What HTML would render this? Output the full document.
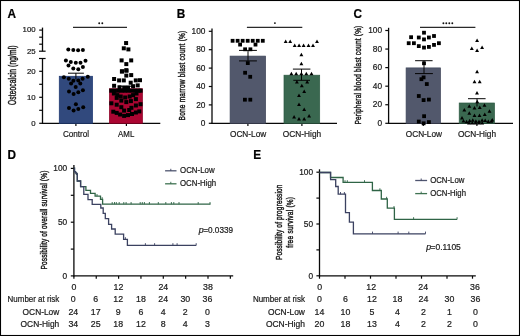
<!DOCTYPE html><html><head><meta charset="utf-8"><style>html,body{margin:0;padding:0;background:#fff}svg{display:block;will-change:transform}text{font-family:"Liberation Sans", sans-serif;stroke:currentColor;stroke-width:0.21px}</style></head><body>
<svg width="520" height="336" viewBox="0 0 520 336">
<rect x="0" y="0" width="520" height="336" fill="#fff"/>
<text x="7.4" y="17.7" font-size="12.8" text-anchor="start" font-weight="bold" fill="#000" color="#000" textLength="8.52" lengthAdjust="spacingAndGlyphs">A</text>
<text x="176.8" y="17.7" font-size="12.8" text-anchor="start" font-weight="bold" fill="#000" color="#000" textLength="8.52" lengthAdjust="spacingAndGlyphs">B</text>
<text x="353.4" y="17.9" font-size="12.8" text-anchor="start" font-weight="bold" fill="#000" color="#000" textLength="8.52" lengthAdjust="spacingAndGlyphs">C</text>
<text x="7.6" y="159.3" font-size="12.8" text-anchor="start" font-weight="bold" fill="#000" color="#000" textLength="8.52" lengthAdjust="spacingAndGlyphs">D</text>
<text x="253.2" y="159.3" font-size="12.8" text-anchor="start" font-weight="bold" fill="#000" color="#000" textLength="7.87" lengthAdjust="spacingAndGlyphs">E</text>
<line x1="42.5" y1="58.3" x2="42.5" y2="123.8" stroke="#080808" stroke-width="1.3"/>
<line x1="39" y1="58.5" x2="45.6" y2="58.5" stroke="#080808" stroke-width="1.2"/>
<line x1="39.2" y1="123.3" x2="42.5" y2="123.3" stroke="#080808" stroke-width="1.2"/>
<line x1="39.2" y1="110.3" x2="42.5" y2="110.3" stroke="#080808" stroke-width="1.2"/>
<line x1="39.2" y1="97.3" x2="42.5" y2="97.3" stroke="#080808" stroke-width="1.2"/>
<line x1="39.2" y1="84.3" x2="42.5" y2="84.3" stroke="#080808" stroke-width="1.2"/>
<line x1="39.2" y1="71.3" x2="42.5" y2="71.3" stroke="#080808" stroke-width="1.2"/>
<line x1="42.5" y1="27.6" x2="42.5" y2="51.3" stroke="#080808" stroke-width="1.3"/>
<line x1="39" y1="51.2" x2="45.6" y2="51.2" stroke="#080808" stroke-width="1.2"/>
<line x1="39.2" y1="30.1" x2="42.5" y2="30.1" stroke="#080808" stroke-width="1.2"/>
<line x1="39.2" y1="37.2" x2="42.5" y2="37.2" stroke="#080808" stroke-width="1.2"/>
<line x1="39.2" y1="44.2" x2="42.5" y2="44.2" stroke="#080808" stroke-width="1.2"/>
<text x="35.6" y="31.9" font-size="7.8" text-anchor="end" font-weight="normal" fill="#1a1a1a" color="#1a1a1a">100</text>
<text x="35.6" y="53.6" font-size="7.8" text-anchor="end" font-weight="normal" fill="#1a1a1a" color="#1a1a1a">25</text>
<text x="35.6" y="73.7" font-size="7.8" text-anchor="end" font-weight="normal" fill="#1a1a1a" color="#1a1a1a">20</text>
<text x="35.6" y="99.7" font-size="7.8" text-anchor="end" font-weight="normal" fill="#1a1a1a" color="#1a1a1a">10</text>
<text x="35.6" y="125.7" font-size="7.8" text-anchor="end" font-weight="normal" fill="#1a1a1a" color="#1a1a1a">0</text>
<line x1="42.0" y1="123.3" x2="160.3" y2="123.3" stroke="#080808" stroke-width="1.3"/>
<line x1="75.9" y1="123.3" x2="75.9" y2="126" stroke="#080808" stroke-width="1.2"/>
<line x1="126.4" y1="123.3" x2="126.4" y2="126" stroke="#080808" stroke-width="1.2"/>
<text x="76.0" y="136.7" font-size="8.8" text-anchor="middle" font-weight="normal" fill="#1a1a1a" color="#1a1a1a" textLength="26.2" lengthAdjust="spacingAndGlyphs">Control</text>
<text x="126.2" y="136.7" font-size="8.8" text-anchor="middle" font-weight="normal" fill="#1a1a1a" color="#1a1a1a" textLength="16.2" lengthAdjust="spacingAndGlyphs">AML</text>
<text transform="translate(16.0,75.3) rotate(-90) scale(0.64,1)" x="0" y="0" font-size="10.3" text-anchor="middle" fill="#1a1a1a" color="#1a1a1a" style="stroke-width:0.47px" textLength="93.12" lengthAdjust="spacing">Osteocalcin (ng/ml)</text>
<rect x="59.3" y="76.3" width="33.1" height="47.0" fill="#31497d" stroke="#203a72" stroke-width="0.8"/>
<rect x="109.4" y="88.7" width="33.1" height="34.6" fill="#ab0632" stroke="#8a0025" stroke-width="0.7"/>
<line x1="73" y1="27.4" x2="127" y2="27.4" stroke="#2a2a2a" stroke-width="1.2"/>
<circle cx="99.2" cy="23.2" r="0.95" fill="#111"/>
<circle cx="102.3" cy="23.2" r="0.95" fill="#111"/>
<line x1="75.9" y1="73.2" x2="75.9" y2="79.5" stroke="#050505" stroke-width="1.0"/>
<line x1="68" y1="73.2" x2="83.9" y2="73.2" stroke="#050505" stroke-width="1.0"/>
<circle cx="68.3" cy="49.6" r="2.0" fill="#000"/>
<circle cx="73.3" cy="50.1" r="2.0" fill="#000"/>
<circle cx="78.1" cy="50.2" r="2.0" fill="#000"/>
<circle cx="82.9" cy="49.9" r="2.0" fill="#000"/>
<circle cx="65.9" cy="60.6" r="2.0" fill="#000"/>
<circle cx="70.8" cy="62" r="2.0" fill="#000"/>
<circle cx="75.8" cy="62.7" r="2.0" fill="#000"/>
<circle cx="80.5" cy="62.7" r="2.0" fill="#000"/>
<circle cx="85.5" cy="60.8" r="2.0" fill="#000"/>
<circle cx="68.5" cy="65.5" r="2.0" fill="#000"/>
<circle cx="82.9" cy="66.9" r="2.0" fill="#000"/>
<circle cx="73.3" cy="68.6" r="2.0" fill="#000"/>
<circle cx="78.3" cy="69.3" r="2.0" fill="#000"/>
<circle cx="63.9" cy="77.2" r="2.0" fill="#000"/>
<circle cx="68.8" cy="78.8" r="2.0" fill="#000"/>
<circle cx="73.4" cy="80.8" r="2.0" fill="#000"/>
<circle cx="78.3" cy="80.4" r="2.0" fill="#000"/>
<circle cx="82.6" cy="78.8" r="2.0" fill="#000"/>
<circle cx="87.8" cy="76.8" r="2.0" fill="#000"/>
<circle cx="71.1" cy="83.4" r="2.0" fill="#000"/>
<circle cx="80.3" cy="83.4" r="2.0" fill="#000"/>
<circle cx="75.7" cy="87.0" r="2.0" fill="#000"/>
<circle cx="69.0" cy="91.4" r="2.0" fill="#000"/>
<circle cx="73.6" cy="94.0" r="2.0" fill="#000"/>
<circle cx="78.3" cy="92.2" r="2.0" fill="#000"/>
<circle cx="82.9" cy="90.3" r="2.0" fill="#000"/>
<circle cx="75.9" cy="104.2" r="2.0" fill="#000"/>
<circle cx="69.0" cy="108.0" r="2.0" fill="#000"/>
<circle cx="73.6" cy="110.4" r="2.0" fill="#000"/>
<circle cx="78.3" cy="108.9" r="2.0" fill="#000"/>
<circle cx="83.2" cy="107.3" r="2.0" fill="#000"/>
<line x1="126.4" y1="86.2" x2="126.4" y2="91.0" stroke="#050505" stroke-width="1.0"/>
<line x1="118.5" y1="86.2" x2="134.3" y2="86.2" stroke="#050505" stroke-width="1.1"/>
<line x1="118.5" y1="91.0" x2="134.3" y2="91.0" stroke="#050505" stroke-width="1.0"/>
<rect x="124.10" y="41.05" width="4.0" height="4.0" fill="#000"/>
<rect x="121.80" y="46.30" width="4.0" height="4.0" fill="#000"/>
<rect x="126.40" y="47.40" width="4.0" height="4.0" fill="#000"/>
<rect x="119.60" y="58.40" width="4.0" height="4.0" fill="#000"/>
<rect x="129.20" y="58.40" width="4.0" height="4.0" fill="#000"/>
<rect x="124.30" y="62.10" width="4.0" height="4.0" fill="#000"/>
<rect x="124.30" y="68.20" width="4.0" height="4.0" fill="#000"/>
<rect x="120.10" y="69.30" width="4.0" height="4.0" fill="#000"/>
<rect x="124.30" y="73.60" width="4.0" height="4.0" fill="#000"/>
<rect x="129.20" y="73.10" width="4.0" height="4.0" fill="#000"/>
<rect x="119.90" y="69.50" width="4.0" height="4.0" fill="#000"/>
<rect x="124.50" y="68.70" width="4.0" height="4.0" fill="#000"/>
<rect x="112.10" y="77.00" width="4.0" height="4.0" fill="#000"/>
<rect x="117.10" y="78.40" width="4.0" height="4.0" fill="#000"/>
<rect x="121.80" y="78.40" width="4.0" height="4.0" fill="#000"/>
<rect x="133.80" y="78.40" width="4.0" height="4.0" fill="#000"/>
<rect x="138.00" y="78.20" width="4.0" height="4.0" fill="#000"/>
<rect x="128.70" y="80.70" width="4.0" height="4.0" fill="#000"/>
<rect x="112.10" y="83.80" width="4.0" height="4.0" fill="#000"/>
<rect x="117.50" y="85.30" width="4.0" height="4.0" fill="#000"/>
<rect x="122.20" y="85.70" width="4.0" height="4.0" fill="#000"/>
<rect x="126.00" y="85.70" width="4.0" height="4.0" fill="#000"/>
<rect x="131.10" y="84.20" width="4.0" height="4.0" fill="#000"/>
<rect x="135.70" y="83.40" width="4.0" height="4.0" fill="#000"/>
<rect x="109.30" y="88.70" width="4.0" height="4.0" fill="#000"/>
<rect x="112.70" y="88.70" width="4.0" height="4.0" fill="#000"/>
<rect x="116.10" y="88.70" width="4.0" height="4.0" fill="#000"/>
<rect x="119.50" y="88.70" width="4.0" height="4.0" fill="#000"/>
<rect x="122.90" y="88.70" width="4.0" height="4.0" fill="#000"/>
<rect x="126.30" y="88.70" width="4.0" height="4.0" fill="#000"/>
<rect x="129.70" y="88.70" width="4.0" height="4.0" fill="#000"/>
<rect x="133.10" y="88.70" width="4.0" height="4.0" fill="#000"/>
<rect x="136.50" y="88.70" width="4.0" height="4.0" fill="#000"/>
<rect x="138.60" y="88.70" width="4.0" height="4.0" fill="#000"/>
<rect x="111.90" y="91.50" width="4.0" height="4.0" fill="#000"/>
<rect x="115.30" y="93.10" width="4.0" height="4.0" fill="#000"/>
<rect x="118.70" y="94.50" width="4.0" height="4.0" fill="#000"/>
<rect x="123.20" y="95.50" width="4.0" height="4.0" fill="#000"/>
<rect x="127.70" y="94.50" width="4.0" height="4.0" fill="#000"/>
<rect x="131.10" y="93.10" width="4.0" height="4.0" fill="#000"/>
<rect x="134.50" y="91.50" width="4.0" height="4.0" fill="#000"/>
<rect x="114.70" y="95.90" width="4.0" height="4.0" fill="#000"/>
<rect x="119.30" y="98.60" width="4.0" height="4.0" fill="#000"/>
<rect x="124.30" y="100.10" width="4.0" height="4.0" fill="#000"/>
<rect x="128.90" y="99.10" width="4.0" height="4.0" fill="#000"/>
<rect x="133.90" y="97.10" width="4.0" height="4.0" fill="#000"/>
<rect x="109.40" y="101.30" width="4.0" height="4.0" fill="#000"/>
<rect x="114.70" y="102.70" width="4.0" height="4.0" fill="#000"/>
<rect x="119.30" y="105.20" width="4.0" height="4.0" fill="#000"/>
<rect x="129.40" y="105.80" width="4.0" height="4.0" fill="#000"/>
<rect x="133.90" y="103.50" width="4.0" height="4.0" fill="#000"/>
<rect x="138.50" y="102.20" width="4.0" height="4.0" fill="#000"/>
<rect x="122.10" y="108.60" width="4.0" height="4.0" fill="#000"/>
<rect x="127.20" y="108.00" width="4.0" height="4.0" fill="#000"/>
<rect x="111.30" y="109.70" width="4.0" height="4.0" fill="#000"/>
<rect x="114.70" y="110.90" width="4.0" height="4.0" fill="#000"/>
<rect x="118.10" y="112.50" width="4.0" height="4.0" fill="#000"/>
<rect x="122.10" y="113.90" width="4.0" height="4.0" fill="#000"/>
<rect x="126.00" y="113.10" width="4.0" height="4.0" fill="#000"/>
<rect x="130.00" y="112.00" width="4.0" height="4.0" fill="#000"/>
<rect x="133.90" y="110.50" width="4.0" height="4.0" fill="#000"/>
<rect x="137.30" y="109.40" width="4.0" height="4.0" fill="#000"/>
<line x1="212.0" y1="28.4" x2="212.0" y2="123.9" stroke="#080808" stroke-width="1.3"/>
<line x1="208.8" y1="123.3" x2="212.0" y2="123.3" stroke="#080808" stroke-width="1.2"/>
<text x="205.4" y="126.0" font-size="8.3" text-anchor="end" font-weight="normal" fill="#1a1a1a" color="#1a1a1a">0</text>
<line x1="208.8" y1="104.89999999999999" x2="212.0" y2="104.89999999999999" stroke="#080808" stroke-width="1.2"/>
<text x="205.4" y="107.6" font-size="8.3" text-anchor="end" font-weight="normal" fill="#1a1a1a" color="#1a1a1a">20</text>
<line x1="208.8" y1="86.5" x2="212.0" y2="86.5" stroke="#080808" stroke-width="1.2"/>
<text x="205.4" y="89.2" font-size="8.3" text-anchor="end" font-weight="normal" fill="#1a1a1a" color="#1a1a1a">40</text>
<line x1="208.8" y1="68.1" x2="212.0" y2="68.1" stroke="#080808" stroke-width="1.2"/>
<text x="205.4" y="70.8" font-size="8.3" text-anchor="end" font-weight="normal" fill="#1a1a1a" color="#1a1a1a">60</text>
<line x1="208.8" y1="49.69999999999999" x2="212.0" y2="49.69999999999999" stroke="#080808" stroke-width="1.2"/>
<text x="205.4" y="52.39999999999999" font-size="8.3" text-anchor="end" font-weight="normal" fill="#1a1a1a" color="#1a1a1a">80</text>
<line x1="208.8" y1="31.299999999999997" x2="212.0" y2="31.299999999999997" stroke="#080808" stroke-width="1.2"/>
<text x="205.4" y="34.0" font-size="8.3" text-anchor="end" font-weight="normal" fill="#1a1a1a" color="#1a1a1a">100</text>
<line x1="211.5" y1="123.3" x2="337.0" y2="123.3" stroke="#080808" stroke-width="1.3"/>
<line x1="247.9" y1="123.3" x2="247.9" y2="126.0" stroke="#080808" stroke-width="1.2"/>
<line x1="301.9" y1="123.3" x2="301.9" y2="126.0" stroke="#080808" stroke-width="1.2"/>
<text x="248.1" y="136.7" font-size="8.8" text-anchor="middle" font-weight="normal" fill="#1a1a1a" color="#1a1a1a" textLength="36.2" lengthAdjust="spacingAndGlyphs">OCN-Low</text>
<text x="302.0" y="136.7" font-size="8.8" text-anchor="middle" font-weight="normal" fill="#1a1a1a" color="#1a1a1a" textLength="38.4" lengthAdjust="spacingAndGlyphs">OCN-High</text>
<text transform="translate(184.9,75.6) rotate(-90) scale(0.66,1)" x="0" y="0" font-size="9.9" text-anchor="middle" fill="#1a1a1a" color="#1a1a1a" style="stroke-width:0.45px" textLength="135.76" lengthAdjust="spacing">Bone marrow blast count (%)</text>
<rect x="230.1" y="56.1" width="35.5" height="67.2" fill="#52586c" stroke="#3f4559" stroke-width="0.7"/>
<rect x="284.0" y="75.2" width="35.7" height="48.1" fill="#3a6850" stroke="#2d5a42" stroke-width="0.7"/>
<line x1="246.9" y1="27.4" x2="302.3" y2="27.4" stroke="#2a2a2a" stroke-width="1.2"/>
<circle cx="274.9" cy="23.1" r="0.95" fill="#111"/>
<line x1="248.0" y1="50.4" x2="248.0" y2="60.8" stroke="#050505" stroke-width="1.0"/>
<line x1="239.0" y1="50.4" x2="256.9" y2="50.4" stroke="#050505" stroke-width="1.0"/>
<line x1="239.0" y1="60.9" x2="256.9" y2="60.9" stroke="#050505" stroke-width="1.0"/>
<rect x="230.70" y="38.90" width="3.8" height="3.8" fill="#000"/>
<rect x="235.73" y="38.90" width="3.8" height="3.8" fill="#000"/>
<rect x="240.76" y="38.90" width="3.8" height="3.8" fill="#000"/>
<rect x="245.79" y="38.90" width="3.8" height="3.8" fill="#000"/>
<rect x="250.82" y="38.90" width="3.8" height="3.8" fill="#000"/>
<rect x="255.85" y="38.90" width="3.8" height="3.8" fill="#000"/>
<rect x="260.88" y="38.90" width="3.8" height="3.8" fill="#000"/>
<rect x="238.20" y="42.70" width="3.8" height="3.8" fill="#000"/>
<rect x="253.60" y="42.70" width="3.8" height="3.8" fill="#000"/>
<rect x="243.20" y="47.40" width="3.8" height="3.8" fill="#000"/>
<rect x="248.50" y="47.40" width="3.8" height="3.8" fill="#000"/>
<rect x="245.90" y="61.20" width="3.8" height="3.8" fill="#000"/>
<rect x="243.20" y="70.85" width="3.8" height="3.8" fill="#000"/>
<rect x="248.30" y="74.90" width="3.8" height="3.8" fill="#000"/>
<rect x="243.00" y="97.80" width="3.8" height="3.8" fill="#000"/>
<rect x="248.40" y="97.80" width="3.8" height="3.8" fill="#000"/>
<line x1="301.5" y1="69.1" x2="301.5" y2="80.3" stroke="#050505" stroke-width="1.0"/>
<line x1="292.9" y1="69.1" x2="310.4" y2="69.1" stroke="#050505" stroke-width="1.0"/>
<line x1="293.3" y1="80.3" x2="310.0" y2="80.3" stroke="#050505" stroke-width="1.0"/>
<polygon points="285.70,39.39 283.75,42.90 287.65,42.90" fill="#000"/>
<polygon points="290.20,39.39 288.25,42.90 292.15,42.90" fill="#000"/>
<polygon points="317.00,39.39 315.05,42.90 318.95,42.90" fill="#000"/>
<polygon points="294.70,43.39 292.75,46.90 296.65,46.90" fill="#000"/>
<polygon points="299.10,43.39 297.15,46.90 301.05,46.90" fill="#000"/>
<polygon points="303.60,43.39 301.65,46.90 305.55,46.90" fill="#000"/>
<polygon points="308.50,43.39 306.55,46.90 310.45,46.90" fill="#000"/>
<polygon points="313.00,43.39 311.05,46.90 314.95,46.90" fill="#000"/>
<polygon points="301.40,52.79 299.45,56.30 303.35,56.30" fill="#000"/>
<polygon points="301.40,61.69 299.45,65.20 303.35,65.20" fill="#000"/>
<polygon points="291.40,71.69 289.45,75.20 293.35,75.20" fill="#000"/>
<polygon points="296.20,71.69 294.25,75.20 298.15,75.20" fill="#000"/>
<polygon points="301.40,71.69 299.45,75.20 303.35,75.20" fill="#000"/>
<polygon points="306.30,71.69 304.35,75.20 308.25,75.20" fill="#000"/>
<polygon points="311.50,71.69 309.55,75.20 313.45,75.20" fill="#000"/>
<polygon points="296.90,79.99 294.95,83.50 298.85,83.50" fill="#000"/>
<polygon points="307.20,79.99 305.25,83.50 309.15,83.50" fill="#000"/>
<polygon points="301.80,83.79 299.85,87.30 303.75,87.30" fill="#000"/>
<polygon points="304.20,89.49 302.25,93.00 306.15,93.00" fill="#000"/>
<polygon points="299.00,93.59 297.05,97.10 300.95,97.10" fill="#000"/>
<polygon points="299.00,102.59 297.05,106.10 300.95,106.10" fill="#000"/>
<polygon points="304.20,107.49 302.25,111.00 306.15,111.00" fill="#000"/>
<polygon points="294.10,114.89 292.15,118.40 296.05,118.40" fill="#000"/>
<polygon points="309.10,114.09 307.15,117.60 311.05,117.60" fill="#000"/>
<polygon points="299.00,117.09 297.05,120.60 300.95,120.60" fill="#000"/>
<polygon points="304.20,117.09 302.25,120.60 306.15,120.60" fill="#000"/>
<line x1="388.6" y1="27.8" x2="388.6" y2="123.9" stroke="#080808" stroke-width="1.3"/>
<line x1="385.3" y1="123.3" x2="388.6" y2="123.3" stroke="#080808" stroke-width="1.2"/>
<text x="382.1" y="125.89999999999999" font-size="8.3" text-anchor="end" font-weight="normal" fill="#1a1a1a" color="#1a1a1a">0</text>
<line x1="385.3" y1="104.74" x2="388.6" y2="104.74" stroke="#080808" stroke-width="1.2"/>
<text x="382.1" y="107.33999999999999" font-size="8.3" text-anchor="end" font-weight="normal" fill="#1a1a1a" color="#1a1a1a">20</text>
<line x1="385.3" y1="86.17999999999999" x2="388.6" y2="86.17999999999999" stroke="#080808" stroke-width="1.2"/>
<text x="382.1" y="88.77999999999999" font-size="8.3" text-anchor="end" font-weight="normal" fill="#1a1a1a" color="#1a1a1a">40</text>
<line x1="385.3" y1="67.62" x2="388.6" y2="67.62" stroke="#080808" stroke-width="1.2"/>
<text x="382.1" y="70.22" font-size="8.3" text-anchor="end" font-weight="normal" fill="#1a1a1a" color="#1a1a1a">60</text>
<line x1="385.3" y1="49.05999999999999" x2="388.6" y2="49.05999999999999" stroke="#080808" stroke-width="1.2"/>
<text x="382.1" y="51.65999999999999" font-size="8.3" text-anchor="end" font-weight="normal" fill="#1a1a1a" color="#1a1a1a">80</text>
<line x1="385.3" y1="30.499999999999986" x2="388.6" y2="30.499999999999986" stroke="#080808" stroke-width="1.2"/>
<text x="382.1" y="33.09999999999999" font-size="8.3" text-anchor="end" font-weight="normal" fill="#1a1a1a" color="#1a1a1a">100</text>
<line x1="388.1" y1="123.3" x2="513.0" y2="123.3" stroke="#080808" stroke-width="1.3"/>
<line x1="423.3" y1="123.3" x2="423.3" y2="126.0" stroke="#080808" stroke-width="1.2"/>
<line x1="476.9" y1="123.3" x2="476.9" y2="126.0" stroke="#080808" stroke-width="1.2"/>
<text x="423.9" y="136.7" font-size="8.8" text-anchor="middle" font-weight="normal" fill="#1a1a1a" color="#1a1a1a" textLength="36.2" lengthAdjust="spacingAndGlyphs">OCN-Low</text>
<text x="477.0" y="136.7" font-size="8.8" text-anchor="middle" font-weight="normal" fill="#1a1a1a" color="#1a1a1a" textLength="38.2" lengthAdjust="spacingAndGlyphs">OCN-High</text>
<text transform="translate(360.6,75.1) rotate(-90) scale(0.66,1)" x="0" y="0" font-size="9.9" text-anchor="middle" fill="#1a1a1a" color="#1a1a1a" style="stroke-width:0.45px" textLength="149.70" lengthAdjust="spacing">Peripheral blood blast count (%)</text>
<rect x="406.1" y="67.9" width="34.4" height="55.4" fill="#52586c" stroke="#3f4559" stroke-width="0.7"/>
<rect x="459.2" y="103.0" width="35.3" height="20.3" fill="#3a6850" stroke="#2d5a42" stroke-width="0.7"/>
<line x1="420.0" y1="27.4" x2="475.4" y2="27.4" stroke="#2a2a2a" stroke-width="1.2"/>
<circle cx="443.4" cy="23.2" r="0.95" fill="#111"/>
<circle cx="446.3" cy="23.2" r="0.95" fill="#111"/>
<circle cx="449.3" cy="23.2" r="0.95" fill="#111"/>
<circle cx="452.3" cy="23.2" r="0.95" fill="#111"/>
<line x1="424.0" y1="60.7" x2="424.0" y2="73.6" stroke="#050505" stroke-width="1.0"/>
<line x1="415.1" y1="60.7" x2="432.6" y2="60.7" stroke="#050505" stroke-width="1.0"/>
<line x1="415.0" y1="73.6" x2="432.9" y2="73.6" stroke="#050505" stroke-width="1.0"/>
<rect x="422.10" y="30.80" width="3.8" height="3.8" fill="#000"/>
<rect x="409.20" y="35.30" width="3.8" height="3.8" fill="#000"/>
<rect x="416.90" y="35.60" width="3.8" height="3.8" fill="#000"/>
<rect x="422.10" y="37.50" width="3.8" height="3.8" fill="#000"/>
<rect x="427.00" y="35.60" width="3.8" height="3.8" fill="#000"/>
<rect x="432.10" y="34.10" width="3.8" height="3.8" fill="#000"/>
<rect x="406.80" y="41.30" width="3.8" height="3.8" fill="#000"/>
<rect x="412.00" y="41.30" width="3.8" height="3.8" fill="#000"/>
<rect x="416.90" y="44.20" width="3.8" height="3.8" fill="#000"/>
<rect x="422.10" y="45.70" width="3.8" height="3.8" fill="#000"/>
<rect x="427.00" y="45.00" width="3.8" height="3.8" fill="#000"/>
<rect x="432.10" y="43.00" width="3.8" height="3.8" fill="#000"/>
<rect x="437.00" y="41.30" width="3.8" height="3.8" fill="#000"/>
<rect x="422.10" y="61.40" width="3.8" height="3.8" fill="#000"/>
<rect x="421.70" y="75.50" width="3.8" height="3.8" fill="#000"/>
<rect x="419.50" y="77.30" width="3.8" height="3.8" fill="#000"/>
<rect x="424.90" y="82.15" width="3.8" height="3.8" fill="#000"/>
<rect x="416.90" y="94.10" width="3.8" height="3.8" fill="#000"/>
<rect x="421.70" y="98.20" width="3.8" height="3.8" fill="#000"/>
<rect x="427.00" y="97.70" width="3.8" height="3.8" fill="#000"/>
<rect x="422.20" y="114.30" width="3.8" height="3.8" fill="#000"/>
<rect x="416.90" y="119.65" width="3.8" height="3.8" fill="#000"/>
<rect x="421.70" y="121.40" width="3.8" height="3.8" fill="#000"/>
<rect x="427.00" y="120.20" width="3.8" height="3.8" fill="#000"/>
<line x1="477.0" y1="98.7" x2="477.0" y2="106.5" stroke="#050505" stroke-width="1.0"/>
<line x1="468.0" y1="98.7" x2="485.6" y2="98.7" stroke="#050505" stroke-width="1.0"/>
<polygon points="477.10,38.39 475.15,41.90 479.05,41.90" fill="#000"/>
<polygon points="471.80,46.49 469.85,50.00 473.75,50.00" fill="#000"/>
<polygon points="482.10,45.59 480.15,49.10 484.05,49.10" fill="#000"/>
<polygon points="477.10,48.59 475.15,52.10 479.05,52.10" fill="#000"/>
<polygon points="477.10,69.69 475.15,73.20 479.05,73.20" fill="#000"/>
<polygon points="474.50,79.79 472.55,83.30 476.45,83.30" fill="#000"/>
<polygon points="479.70,79.79 477.75,83.30 481.65,83.30" fill="#000"/>
<polygon points="477.00,90.89 475.05,94.40 478.95,94.40" fill="#000"/>
<polygon points="477.25,99.64 475.30,103.15 479.20,103.15" fill="#000"/>
<polygon points="469.30,104.19 467.35,107.70 471.25,107.70" fill="#000"/>
<polygon points="474.50,106.09 472.55,109.60 476.45,109.60" fill="#000"/>
<polygon points="479.75,105.49 477.80,109.00 481.70,109.00" fill="#000"/>
<polygon points="484.50,103.19 482.55,106.70 486.45,106.70" fill="#000"/>
<polygon points="464.30,107.99 462.35,111.50 466.25,111.50" fill="#000"/>
<polygon points="469.30,111.29 467.35,114.80 471.25,114.80" fill="#000"/>
<polygon points="474.50,113.39 472.55,116.90 476.45,116.90" fill="#000"/>
<polygon points="479.50,113.39 477.55,116.90 481.45,116.90" fill="#000"/>
<polygon points="484.75,112.39 482.80,115.90 486.70,115.90" fill="#000"/>
<polygon points="489.50,109.19 487.55,112.70 491.45,112.70" fill="#000"/>
<polygon points="462.00,115.89 460.05,119.40 463.95,119.40" fill="#000"/>
<polygon points="492.25,117.89 490.30,121.40 494.20,121.40" fill="#000"/>
<polygon points="463.50,118.89 461.55,122.40 465.45,122.40" fill="#000"/>
<polygon points="466.60,119.69 464.65,123.20 468.55,123.20" fill="#000"/>
<polygon points="469.70,118.69 467.75,122.20 471.65,122.20" fill="#000"/>
<polygon points="472.80,118.15 470.85,121.66 474.75,121.66" fill="#000"/>
<polygon points="475.90,119.29 473.95,122.80 477.85,122.80" fill="#000"/>
<polygon points="479.00,119.53 477.05,123.04 480.95,123.04" fill="#000"/>
<polygon points="482.10,118.33 480.15,121.84 484.05,121.84" fill="#000"/>
<polygon points="485.20,118.40 483.25,121.91 487.15,121.91" fill="#000"/>
<polygon points="488.30,119.58 486.35,123.09 490.25,123.09" fill="#000"/>
<polygon points="491.40,119.21 489.45,122.72 493.35,122.72" fill="#000"/>
<polygon points="469.00,121.09 467.05,124.60 470.95,124.60" fill="#000"/>
<polygon points="472.30,121.09 470.35,124.60 474.25,124.60" fill="#000"/>
<polygon points="475.60,121.09 473.65,124.60 477.55,124.60" fill="#000"/>
<polygon points="478.90,121.09 476.95,124.60 480.85,124.60" fill="#000"/>
<polygon points="482.20,121.09 480.25,124.60 484.15,124.60" fill="#000"/>
<line x1="73.9" y1="165.0" x2="73.9" y2="276.5" stroke="#080808" stroke-width="1.3"/>
<line x1="70.8" y1="168.4" x2="73.9" y2="168.4" stroke="#080808" stroke-width="1.2"/>
<line x1="70.8" y1="195.3" x2="73.9" y2="195.3" stroke="#080808" stroke-width="1.2"/>
<line x1="70.8" y1="222.2" x2="73.9" y2="222.2" stroke="#080808" stroke-width="1.2"/>
<line x1="70.8" y1="249.1" x2="73.9" y2="249.1" stroke="#080808" stroke-width="1.2"/>
<line x1="70.8" y1="275.9" x2="73.9" y2="275.9" stroke="#080808" stroke-width="1.2"/>
<text x="67.2" y="171.0" font-size="8.3" text-anchor="end" font-weight="normal" fill="#1a1a1a" color="#1a1a1a">100</text>
<text x="67.2" y="224.79999999999998" font-size="8.3" text-anchor="end" font-weight="normal" fill="#1a1a1a" color="#1a1a1a">50</text>
<text x="67.2" y="278.5" font-size="8.3" text-anchor="end" font-weight="normal" fill="#1a1a1a" color="#1a1a1a">0</text>
<line x1="73.4" y1="275.9" x2="233.2" y2="275.9" stroke="#080808" stroke-width="1.3"/>
<line x1="73.9" y1="275.9" x2="73.9" y2="278.7" stroke="#080808" stroke-width="1.2"/>
<line x1="96.25" y1="275.9" x2="96.25" y2="278.7" stroke="#080808" stroke-width="1.2"/>
<line x1="118.60000000000001" y1="275.9" x2="118.60000000000001" y2="278.7" stroke="#080808" stroke-width="1.2"/>
<line x1="140.95000000000002" y1="275.9" x2="140.95000000000002" y2="278.7" stroke="#080808" stroke-width="1.2"/>
<line x1="163.3" y1="275.9" x2="163.3" y2="278.7" stroke="#080808" stroke-width="1.2"/>
<line x1="185.65" y1="275.9" x2="185.65" y2="278.7" stroke="#080808" stroke-width="1.2"/>
<line x1="208.00000000000003" y1="275.9" x2="208.00000000000003" y2="278.7" stroke="#080808" stroke-width="1.2"/>
<line x1="230.35000000000002" y1="275.9" x2="230.35000000000002" y2="278.7" stroke="#080808" stroke-width="1.2"/>
<text x="73.9" y="289.5" font-size="8.8" text-anchor="middle" font-weight="normal" fill="#1a1a1a" color="#1a1a1a">0</text>
<text x="118.5" y="289.5" font-size="8.8" text-anchor="middle" font-weight="normal" fill="#1a1a1a" color="#1a1a1a">12</text>
<text x="163.3" y="289.5" font-size="8.8" text-anchor="middle" font-weight="normal" fill="#1a1a1a" color="#1a1a1a">24</text>
<text x="208.0" y="289.5" font-size="8.8" text-anchor="middle" font-weight="normal" fill="#1a1a1a" color="#1a1a1a">38</text>
<text transform="translate(46.8,220.1) rotate(-90) scale(0.66,1)" x="0" y="0" font-size="9.9" text-anchor="middle" fill="#1a1a1a" color="#1a1a1a" style="stroke-width:0.45px" textLength="149.85" lengthAdjust="spacing">Possibility of overall survival (%)</text>
<path d="M73.9,168.2 H74.5 V171.6 H75.5 V172.8 H76.5 V174.0 H77.3 V181.0 H80.6 V186.7 H85.9 V190.3 H90.5 V193.3 H95.1 V196.2 H100.5 V199.4 H102.6 V204.2 H210.5" fill="none" stroke="#2f6446" stroke-width="1.3"/>
<path d="M73.9,168.2 H74.5 V171.6 H75.5 V172.8 H76.5 V174.0 H77.3 V181.0 H80.6 V186.7 H83.8 V194.4 H88.0 V199.6 H92.2 V204.3 H100.8 V208.0 H103.2 V213.4 H105.3 V218.6 H108.6 V224.4 H111.6 V229.0 H115.2 V234.2 H123.6 V239.4 H127.4 V245.4 H196.2" fill="none" stroke="#3b4160" stroke-width="1.3"/>
<line x1="97.0" y1="196.2" x2="97.0" y2="194.0" stroke="#2f6446" stroke-width="0.9"/>
<line x1="102.2" y1="199.4" x2="102.2" y2="197.20000000000002" stroke="#2f6446" stroke-width="0.9"/>
<line x1="112.2" y1="204.2" x2="112.2" y2="202.0" stroke="#2f6446" stroke-width="0.9"/>
<line x1="114.5" y1="204.2" x2="114.5" y2="202.0" stroke="#2f6446" stroke-width="0.9"/>
<line x1="116.3" y1="204.2" x2="116.3" y2="202.0" stroke="#2f6446" stroke-width="0.9"/>
<line x1="119.2" y1="204.2" x2="119.2" y2="202.0" stroke="#2f6446" stroke-width="0.9"/>
<line x1="123.8" y1="204.2" x2="123.8" y2="202.0" stroke="#2f6446" stroke-width="0.9"/>
<line x1="126.1" y1="204.2" x2="126.1" y2="202.0" stroke="#2f6446" stroke-width="0.9"/>
<line x1="131.1" y1="204.2" x2="131.1" y2="202.0" stroke="#2f6446" stroke-width="0.9"/>
<line x1="140.2" y1="204.2" x2="140.2" y2="202.0" stroke="#2f6446" stroke-width="0.9"/>
<line x1="142.3" y1="204.2" x2="142.3" y2="202.0" stroke="#2f6446" stroke-width="0.9"/>
<line x1="144.4" y1="204.2" x2="144.4" y2="202.0" stroke="#2f6446" stroke-width="0.9"/>
<line x1="149.4" y1="204.2" x2="149.4" y2="202.0" stroke="#2f6446" stroke-width="0.9"/>
<line x1="158.3" y1="204.2" x2="158.3" y2="202.0" stroke="#2f6446" stroke-width="0.9"/>
<line x1="165.8" y1="204.2" x2="165.8" y2="202.0" stroke="#2f6446" stroke-width="0.9"/>
<line x1="171.4" y1="204.2" x2="171.4" y2="202.0" stroke="#2f6446" stroke-width="0.9"/>
<line x1="173.8" y1="204.2" x2="173.8" y2="202.0" stroke="#2f6446" stroke-width="0.9"/>
<line x1="179.0" y1="204.2" x2="179.0" y2="202.0" stroke="#2f6446" stroke-width="0.9"/>
<line x1="198.2" y1="204.2" x2="198.2" y2="202.0" stroke="#2f6446" stroke-width="0.9"/>
<line x1="210.0" y1="204.2" x2="210.0" y2="202.0" stroke="#2f6446" stroke-width="0.9"/>
<line x1="125.4" y1="239.4" x2="125.4" y2="237.2" stroke="#3b4160" stroke-width="0.9"/>
<line x1="145.4" y1="245.4" x2="145.4" y2="243.2" stroke="#3b4160" stroke-width="0.9"/>
<line x1="154.6" y1="245.4" x2="154.6" y2="243.2" stroke="#3b4160" stroke-width="0.9"/>
<line x1="172.9" y1="245.4" x2="172.9" y2="243.2" stroke="#3b4160" stroke-width="0.9"/>
<line x1="177.1" y1="245.4" x2="177.1" y2="243.2" stroke="#3b4160" stroke-width="0.9"/>
<line x1="196.2" y1="245.4" x2="196.2" y2="243.2" stroke="#3b4160" stroke-width="0.9"/>
<line x1="165.1" y1="170.8" x2="176.5" y2="170.8" stroke="#4f5570" stroke-width="1.3"/>
<line x1="170.8" y1="170.8" x2="170.8" y2="168.8" stroke="#3b4160" stroke-width="0.9"/>
<line x1="165.1" y1="183.8" x2="176.5" y2="183.8" stroke="#3f7352" stroke-width="1.3"/>
<line x1="170.8" y1="183.8" x2="170.8" y2="181.8" stroke="#2f6446" stroke-width="0.9"/>
<text x="180.0" y="173.1" font-size="8.8" text-anchor="start" font-weight="normal" fill="#1a1a1a" color="#1a1a1a" textLength="34.6" lengthAdjust="spacingAndGlyphs">OCN-Low</text>
<text x="180.0" y="186.2" font-size="8.8" text-anchor="start" font-weight="normal" fill="#1a1a1a" color="#1a1a1a" textLength="36.2" lengthAdjust="spacingAndGlyphs">OCN-High</text>
<text x="198.8" y="232.9" font-size="8.8" text-anchor="start" font-weight="normal" fill="#1a1a1a" color="#1a1a1a" font-style="italic">p</text>
<text x="203.2" y="232.9" font-size="8.8" text-anchor="start" font-weight="normal" fill="#1a1a1a" color="#1a1a1a" textLength="29.9" lengthAdjust="spacingAndGlyphs">=0.0339</text>
<text x="59.3" y="302.4" font-size="8.8" text-anchor="end" font-weight="normal" fill="#1a1a1a" color="#1a1a1a" textLength="51.7" lengthAdjust="spacingAndGlyphs">Number at risk</text>
<text x="59.3" y="314.5" font-size="8.8" text-anchor="end" font-weight="normal" fill="#1a1a1a" color="#1a1a1a" textLength="36.7" lengthAdjust="spacingAndGlyphs">OCN-Low</text>
<text x="59.3" y="326.7" font-size="8.8" text-anchor="end" font-weight="normal" fill="#1a1a1a" color="#1a1a1a" textLength="38.7" lengthAdjust="spacingAndGlyphs">OCN-High</text>
<text x="73.3" y="302.4" font-size="8.8" text-anchor="middle" font-weight="normal" fill="#1a1a1a" color="#1a1a1a">0</text>
<text x="95.7" y="302.4" font-size="8.8" text-anchor="middle" font-weight="normal" fill="#1a1a1a" color="#1a1a1a">6</text>
<text x="118.2" y="302.4" font-size="8.8" text-anchor="middle" font-weight="normal" fill="#1a1a1a" color="#1a1a1a">12</text>
<text x="141.0" y="302.4" font-size="8.8" text-anchor="middle" font-weight="normal" fill="#1a1a1a" color="#1a1a1a">18</text>
<text x="163.2" y="302.4" font-size="8.8" text-anchor="middle" font-weight="normal" fill="#1a1a1a" color="#1a1a1a">24</text>
<text x="185.3" y="302.4" font-size="8.8" text-anchor="middle" font-weight="normal" fill="#1a1a1a" color="#1a1a1a">30</text>
<text x="207.5" y="302.4" font-size="8.8" text-anchor="middle" font-weight="normal" fill="#1a1a1a" color="#1a1a1a">36</text>
<text x="73.3" y="314.5" font-size="8.8" text-anchor="middle" font-weight="normal" fill="#1a1a1a" color="#1a1a1a">24</text>
<text x="95.7" y="314.5" font-size="8.8" text-anchor="middle" font-weight="normal" fill="#1a1a1a" color="#1a1a1a">17</text>
<text x="118.2" y="314.5" font-size="8.8" text-anchor="middle" font-weight="normal" fill="#1a1a1a" color="#1a1a1a">9</text>
<text x="141.0" y="314.5" font-size="8.8" text-anchor="middle" font-weight="normal" fill="#1a1a1a" color="#1a1a1a">6</text>
<text x="163.2" y="314.5" font-size="8.8" text-anchor="middle" font-weight="normal" fill="#1a1a1a" color="#1a1a1a">4</text>
<text x="185.3" y="314.5" font-size="8.8" text-anchor="middle" font-weight="normal" fill="#1a1a1a" color="#1a1a1a">2</text>
<text x="207.5" y="314.5" font-size="8.8" text-anchor="middle" font-weight="normal" fill="#1a1a1a" color="#1a1a1a">0</text>
<text x="73.3" y="326.7" font-size="8.8" text-anchor="middle" font-weight="normal" fill="#1a1a1a" color="#1a1a1a">34</text>
<text x="95.7" y="326.7" font-size="8.8" text-anchor="middle" font-weight="normal" fill="#1a1a1a" color="#1a1a1a">25</text>
<text x="118.2" y="326.7" font-size="8.8" text-anchor="middle" font-weight="normal" fill="#1a1a1a" color="#1a1a1a">18</text>
<text x="141.0" y="326.7" font-size="8.8" text-anchor="middle" font-weight="normal" fill="#1a1a1a" color="#1a1a1a">12</text>
<text x="163.2" y="326.7" font-size="8.8" text-anchor="middle" font-weight="normal" fill="#1a1a1a" color="#1a1a1a">8</text>
<text x="185.3" y="326.7" font-size="8.8" text-anchor="middle" font-weight="normal" fill="#1a1a1a" color="#1a1a1a">4</text>
<text x="207.5" y="326.7" font-size="8.8" text-anchor="middle" font-weight="normal" fill="#1a1a1a" color="#1a1a1a">3</text>
<line x1="319.5" y1="169.3" x2="319.5" y2="276.5" stroke="#080808" stroke-width="1.3"/>
<line x1="316.4" y1="172.2" x2="319.5" y2="172.2" stroke="#080808" stroke-width="1.2"/>
<line x1="316.4" y1="198.1" x2="319.5" y2="198.1" stroke="#080808" stroke-width="1.2"/>
<line x1="316.4" y1="224.0" x2="319.5" y2="224.0" stroke="#080808" stroke-width="1.2"/>
<line x1="316.4" y1="249.9" x2="319.5" y2="249.9" stroke="#080808" stroke-width="1.2"/>
<line x1="316.4" y1="275.8" x2="319.5" y2="275.8" stroke="#080808" stroke-width="1.2"/>
<text x="313.1" y="174.89999999999998" font-size="8.3" text-anchor="end" font-weight="normal" fill="#1a1a1a" color="#1a1a1a">100</text>
<text x="313.1" y="226.7" font-size="8.3" text-anchor="end" font-weight="normal" fill="#1a1a1a" color="#1a1a1a">50</text>
<text x="313.1" y="278.5" font-size="8.3" text-anchor="end" font-weight="normal" fill="#1a1a1a" color="#1a1a1a">0</text>
<line x1="319.0" y1="275.9" x2="475.8" y2="275.9" stroke="#080808" stroke-width="1.3"/>
<line x1="319.5" y1="275.9" x2="319.5" y2="278.7" stroke="#080808" stroke-width="1.2"/>
<line x1="345.0" y1="275.9" x2="345.0" y2="278.7" stroke="#080808" stroke-width="1.2"/>
<line x1="370.5" y1="275.9" x2="370.5" y2="278.7" stroke="#080808" stroke-width="1.2"/>
<line x1="396.0" y1="275.9" x2="396.0" y2="278.7" stroke="#080808" stroke-width="1.2"/>
<line x1="421.5" y1="275.9" x2="421.5" y2="278.7" stroke="#080808" stroke-width="1.2"/>
<line x1="447.0" y1="275.9" x2="447.0" y2="278.7" stroke="#080808" stroke-width="1.2"/>
<line x1="472.5" y1="275.9" x2="472.5" y2="278.7" stroke="#080808" stroke-width="1.2"/>
<text x="319.8" y="289.5" font-size="8.8" text-anchor="middle" font-weight="normal" fill="#1a1a1a" color="#1a1a1a">0</text>
<text x="371.2" y="289.5" font-size="8.8" text-anchor="middle" font-weight="normal" fill="#1a1a1a" color="#1a1a1a">12</text>
<text x="423.2" y="289.5" font-size="8.8" text-anchor="middle" font-weight="normal" fill="#1a1a1a" color="#1a1a1a">24</text>
<text x="475.0" y="289.5" font-size="8.8" text-anchor="middle" font-weight="normal" fill="#1a1a1a" color="#1a1a1a">36</text>
<text transform="translate(281.9,222.3) rotate(-90) scale(0.66,1)" x="0" y="0" font-size="9.9" text-anchor="middle" fill="#1a1a1a" color="#1a1a1a" style="stroke-width:0.45px" textLength="114.55" lengthAdjust="spacing">Possibility of progression</text>
<text transform="translate(293.0,222.4) rotate(-90) scale(0.66,1)" x="0" y="0" font-size="9.9" text-anchor="middle" fill="#1a1a1a" color="#1a1a1a" style="stroke-width:0.45px" textLength="77.12" lengthAdjust="spacing">free survival (%)</text>
<path d="M319.5,172.5 H330.5 V177.5 H343.1 V182.4 H372.4 V190.5 H381.3 V199.0 H387.3 V208.2 H394.4 V219.4 H457.1" fill="none" stroke="#2f6446" stroke-width="1.3"/>
<path d="M319.5,172.5 H330.6 V179.6 H335.7 V186.5 H338.2 V194.2 H345.5 V212.7 H349.4 V222.1 H353.4 V233.8 H425.5" fill="none" stroke="#3b4160" stroke-width="1.3"/>
<line x1="345.0" y1="182.4" x2="345.0" y2="180.20000000000002" stroke="#2f6446" stroke-width="0.9"/>
<line x1="347.3" y1="182.4" x2="347.3" y2="180.20000000000002" stroke="#2f6446" stroke-width="0.9"/>
<line x1="364.5" y1="182.4" x2="364.5" y2="180.20000000000002" stroke="#2f6446" stroke-width="0.9"/>
<line x1="379.9" y1="190.5" x2="379.9" y2="188.3" stroke="#2f6446" stroke-width="0.9"/>
<line x1="386.6" y1="199.0" x2="386.6" y2="196.8" stroke="#2f6446" stroke-width="0.9"/>
<line x1="394.0" y1="208.2" x2="394.0" y2="206.0" stroke="#2f6446" stroke-width="0.9"/>
<line x1="413.6" y1="219.4" x2="413.6" y2="217.20000000000002" stroke="#2f6446" stroke-width="0.9"/>
<line x1="457.1" y1="219.4" x2="457.1" y2="217.20000000000002" stroke="#2f6446" stroke-width="0.9"/>
<line x1="340.5" y1="194.2" x2="340.5" y2="192.0" stroke="#3b4160" stroke-width="0.9"/>
<line x1="344.4" y1="194.2" x2="344.4" y2="192.0" stroke="#3b4160" stroke-width="0.9"/>
<line x1="372.5" y1="233.8" x2="372.5" y2="231.60000000000002" stroke="#3b4160" stroke-width="0.9"/>
<line x1="398.1" y1="233.8" x2="398.1" y2="231.60000000000002" stroke="#3b4160" stroke-width="0.9"/>
<line x1="408.8" y1="233.8" x2="408.8" y2="231.60000000000002" stroke="#3b4160" stroke-width="0.9"/>
<line x1="425.5" y1="233.8" x2="425.5" y2="231.60000000000002" stroke="#3b4160" stroke-width="0.9"/>
<line x1="415.2" y1="180.5" x2="427.1" y2="180.5" stroke="#4f5570" stroke-width="1.3"/>
<line x1="421.2" y1="180.5" x2="421.2" y2="178.5" stroke="#3b4160" stroke-width="0.9"/>
<line x1="415.2" y1="193.6" x2="427.1" y2="193.6" stroke="#3f7352" stroke-width="1.3"/>
<line x1="421.2" y1="193.6" x2="421.2" y2="191.6" stroke="#2f6446" stroke-width="0.9"/>
<text x="430.2" y="182.9" font-size="8.8" text-anchor="start" font-weight="normal" fill="#1a1a1a" color="#1a1a1a" textLength="34.2" lengthAdjust="spacingAndGlyphs">OCN-Low</text>
<text x="430.2" y="196.0" font-size="8.8" text-anchor="start" font-weight="normal" fill="#1a1a1a" color="#1a1a1a" textLength="35.8" lengthAdjust="spacingAndGlyphs">OCN-High</text>
<text x="426.2" y="249.7" font-size="8.8" text-anchor="start" font-weight="normal" fill="#1a1a1a" color="#1a1a1a" font-style="italic">p</text>
<text x="430.6" y="249.7" font-size="8.8" text-anchor="start" font-weight="normal" fill="#1a1a1a" color="#1a1a1a" textLength="30.2" lengthAdjust="spacingAndGlyphs">=0.1105</text>
<text x="304.9" y="302.4" font-size="8.8" text-anchor="end" font-weight="normal" fill="#1a1a1a" color="#1a1a1a" textLength="52.0" lengthAdjust="spacingAndGlyphs">Number at risk</text>
<text x="304.9" y="314.5" font-size="8.8" text-anchor="end" font-weight="normal" fill="#1a1a1a" color="#1a1a1a" textLength="36.9" lengthAdjust="spacingAndGlyphs">OCN-Low</text>
<text x="304.9" y="326.7" font-size="8.8" text-anchor="end" font-weight="normal" fill="#1a1a1a" color="#1a1a1a" textLength="39.0" lengthAdjust="spacingAndGlyphs">OCN-High</text>
<text x="319.4" y="302.4" font-size="8.8" text-anchor="middle" font-weight="normal" fill="#1a1a1a" color="#1a1a1a">0</text>
<text x="345.4" y="302.4" font-size="8.8" text-anchor="middle" font-weight="normal" fill="#1a1a1a" color="#1a1a1a">6</text>
<text x="371.9" y="302.4" font-size="8.8" text-anchor="middle" font-weight="normal" fill="#1a1a1a" color="#1a1a1a">12</text>
<text x="397.5" y="302.4" font-size="8.8" text-anchor="middle" font-weight="normal" fill="#1a1a1a" color="#1a1a1a">18</text>
<text x="423.4" y="302.4" font-size="8.8" text-anchor="middle" font-weight="normal" fill="#1a1a1a" color="#1a1a1a">24</text>
<text x="449.4" y="302.4" font-size="8.8" text-anchor="middle" font-weight="normal" fill="#1a1a1a" color="#1a1a1a">30</text>
<text x="475.4" y="302.4" font-size="8.8" text-anchor="middle" font-weight="normal" fill="#1a1a1a" color="#1a1a1a">36</text>
<text x="319.4" y="314.5" font-size="8.8" text-anchor="middle" font-weight="normal" fill="#1a1a1a" color="#1a1a1a">14</text>
<text x="345.4" y="314.5" font-size="8.8" text-anchor="middle" font-weight="normal" fill="#1a1a1a" color="#1a1a1a">10</text>
<text x="371.9" y="314.5" font-size="8.8" text-anchor="middle" font-weight="normal" fill="#1a1a1a" color="#1a1a1a">5</text>
<text x="397.5" y="314.5" font-size="8.8" text-anchor="middle" font-weight="normal" fill="#1a1a1a" color="#1a1a1a">4</text>
<text x="423.4" y="314.5" font-size="8.8" text-anchor="middle" font-weight="normal" fill="#1a1a1a" color="#1a1a1a">2</text>
<text x="449.4" y="314.5" font-size="8.8" text-anchor="middle" font-weight="normal" fill="#1a1a1a" color="#1a1a1a">1</text>
<text x="475.4" y="314.5" font-size="8.8" text-anchor="middle" font-weight="normal" fill="#1a1a1a" color="#1a1a1a">0</text>
<text x="319.4" y="326.7" font-size="8.8" text-anchor="middle" font-weight="normal" fill="#1a1a1a" color="#1a1a1a">20</text>
<text x="345.4" y="326.7" font-size="8.8" text-anchor="middle" font-weight="normal" fill="#1a1a1a" color="#1a1a1a">18</text>
<text x="371.9" y="326.7" font-size="8.8" text-anchor="middle" font-weight="normal" fill="#1a1a1a" color="#1a1a1a">13</text>
<text x="397.5" y="326.7" font-size="8.8" text-anchor="middle" font-weight="normal" fill="#1a1a1a" color="#1a1a1a">4</text>
<text x="423.4" y="326.7" font-size="8.8" text-anchor="middle" font-weight="normal" fill="#1a1a1a" color="#1a1a1a">2</text>
<text x="449.4" y="326.7" font-size="8.8" text-anchor="middle" font-weight="normal" fill="#1a1a1a" color="#1a1a1a">2</text>
<text x="475.4" y="326.7" font-size="8.8" text-anchor="middle" font-weight="normal" fill="#1a1a1a" color="#1a1a1a">0</text>
<rect x="0.5" y="0.5" width="519" height="335" fill="none" stroke="#000" stroke-width="1.1"/>
</svg></body></html>
